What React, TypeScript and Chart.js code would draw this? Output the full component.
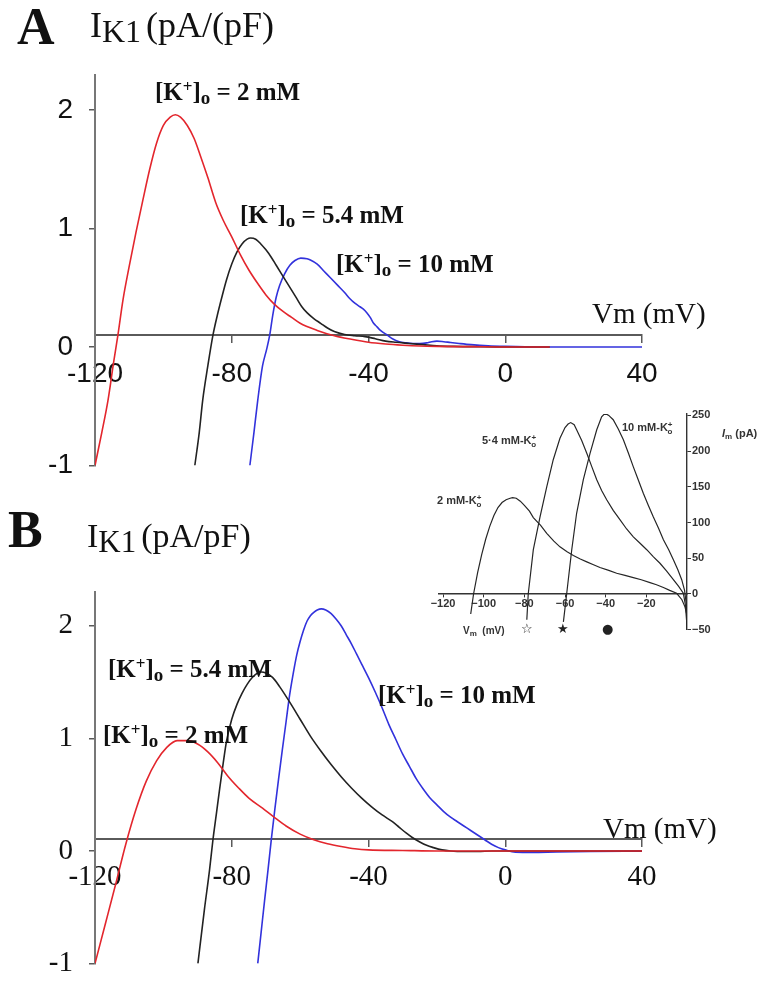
import React, { useEffect, useRef } from "react";
import { Chart, registerables } from "chart.js";

Chart.register(...registerables);

// ---------- Panel A (pA/pF vs mV) ----------
const aRedV = [-120, -118, -116.2, -114.5, -113.3, -111.8, -110, -108, -106, -104, -102, -100, -98, -96.5, -95, -93, -91, -89, -87, -84.7, -82.5, -80, -77.5, -75, -72.5, -70, -67.5, -65, -62.5, -60, -55, -50, -45, -40, -35, -30, -25, -20, -10, 0, 13];
const aRedI = [-1.0, -0.72, -0.45, -0.12, 0.1, 0.4, 0.68, 0.97, 1.24, 1.5, 1.72, 1.87, 1.94, 1.96, 1.94, 1.87, 1.76, 1.6, 1.43, 1.22, 1.07, 0.93, 0.78, 0.65, 0.54, 0.44, 0.36, 0.3, 0.25, 0.2, 0.14, 0.095, 0.065, 0.04, 0.025, 0.015, 0.008, 0.005, 0.003, 0.0, 0.0];

const aBlackV = [-90.8, -89.5, -88.5, -87, -85.5, -84.2, -82.9, -81.5, -80, -78.5, -77, -75.5, -74.5, -73, -71.5, -70, -68.5, -67, -65.5, -64, -62.5, -61, -59.5, -58, -56, -54, -52, -50, -47, -44, -41, -38, -35, -32, -28, -24, -20, -15, -10, 0, 13];
const aBlackI = [-1.0, -0.72, -0.45, -0.16, 0.1, 0.27, 0.42, 0.57, 0.7, 0.8, 0.87, 0.91, 0.92, 0.91, 0.87, 0.82, 0.76, 0.69, 0.62, 0.55, 0.48, 0.41, 0.34, 0.29, 0.24, 0.2, 0.16, 0.13, 0.105, 0.095, 0.088, 0.07, 0.05, 0.04, 0.03, 0.02, 0.01, 0.005, 0.003, 0.0, 0.0];

const aBlueV = [-74.7, -73.5, -72.4, -71, -69.8, -68.9, -68, -67, -66, -64.5, -63, -61.5, -59.8, -58, -57, -55, -53, -51, -49, -47, -45.5, -44, -42.5, -41.5, -40.5, -39.5, -38.5, -37.5, -36.5, -34.5, -33, -31, -29, -27, -25, -23, -21.5, -20, -18, -16, -13.5, -10, -5, 0, 10, 40];
const aBlueI = [-1.0, -0.72, -0.45, -0.16, -0.02, 0.1, 0.27, 0.42, 0.52, 0.62, 0.69, 0.73, 0.75, 0.745, 0.735, 0.7, 0.64, 0.58, 0.52, 0.46, 0.41, 0.37, 0.34, 0.32, 0.29, 0.25, 0.2, 0.17, 0.14, 0.1, 0.07, 0.045, 0.035, 0.03, 0.03, 0.035, 0.045, 0.05, 0.045, 0.038, 0.03, 0.02, 0.01, 0.005, 0.0, 0.0];

// ---------- Panel B ----------
const bRedV = [-120, -117, -114, -111, -108, -105, -102, -99, -96, -93, -90, -87, -84, -81, -78, -75, -71, -68, -64, -60, -56, -52, -48, -44, -40, -30, -20, 0, 40];
const bRedI = [-1.0, -0.65, -0.3, 0.06, 0.37, 0.62, 0.8, 0.92, 0.98, 0.98, 0.95, 0.88, 0.78, 0.66, 0.56, 0.47, 0.38, 0.31, 0.22, 0.15, 0.1, 0.065, 0.04, 0.02, 0.01, 0.005, 0.0, 0.0, 0.0];

const bBlackV = [-89.9, -88, -86.5, -85.5, -84.5, -83.5, -82.5, -81.5, -80, -78.5, -77, -75.5, -74, -72.5, -71.3, -70, -68, -66, -63, -60, -57, -54, -51, -48, -45, -42, -39, -36, -33, -31, -29, -27.2, -25, -23, -21, -18.5, -16, -12, -8, -4, 0, 20, 40];
const bBlackI = [-1.0, -0.52, -0.17, 0.1, 0.33, 0.56, 0.78, 0.98, 1.17, 1.3, 1.4, 1.48, 1.54, 1.58, 1.59, 1.58, 1.54, 1.46, 1.32, 1.17, 1.02, 0.89, 0.77, 0.66, 0.56, 0.47, 0.39, 0.32, 0.26, 0.21, 0.16, 0.12, 0.08, 0.05, 0.03, 0.01, 0.0, -0.005, -0.005, 0.0, 0.0, 0.0, 0.0];

const bBlueV = [-72.4, -71.4, -70.4, -69.4, -68.4, -67.4, -66.3, -65.2, -64.1, -63.1, -62, -61, -60, -59, -58, -57, -56, -55, -53.8, -52.5, -51, -49.5, -48, -46.5, -45, -43.5, -42, -40, -38, -36, -34, -32, -30, -28, -26, -24, -22, -20, -18, -16, -14, -12, -10, -8, -6, -4, -2, 0, 3, 8, 15, 25, 40];
const bBlueI = [-1.0, -0.72, -0.44, -0.17, 0.11, 0.37, 0.64, 0.9, 1.15, 1.38, 1.58, 1.74, 1.86, 1.96, 2.04, 2.09, 2.12, 2.14, 2.15, 2.14, 2.11, 2.06, 2.0, 1.92, 1.84, 1.75, 1.66, 1.54, 1.41, 1.27, 1.12, 0.99, 0.86, 0.75, 0.64, 0.55, 0.47, 0.41, 0.35, 0.3, 0.26, 0.22, 0.18, 0.14, 0.1, 0.06, 0.03, 0.01, -0.01, -0.012, -0.008, -0.004, -0.002];

// ---------- Inset (pA vs mV) ----------
const i2V = [-106.4, -105, -103, -101, -99, -97, -95, -93, -91, -89, -87, -85.8, -84, -82, -80, -77.5, -75.6, -72, -69, -65.5, -62.5, -59, -55.9, -52.5, -49.3, -46, -42.8, -38.5, -34.6, -30.5, -26.4, -22.5, -18.2, -15, -11.6, -8.5, -5.1, -2.5, -1, 0];
const i2I = [-28, 0, 30, 55, 77, 95, 110, 121, 128, 132, 134, 135, 134, 130, 124, 116, 107, 96, 85, 74, 66, 59, 54, 49, 45, 41, 37, 33, 29, 26, 23, 20, 16, 13, 9, 5, 1, -8, -18, -30];
const i54V = [-78.8, -78.1, -75.6, -72.3, -69, -65.8, -62.5, -60, -58.5, -57.2, -55.5, -54.3, -51.8, -49.3, -46.8, -44.4, -42, -39.5, -36.3, -33, -29.7, -26.4, -23.1, -19.8, -16.5, -13.3, -10, -6.7, -4.2, -1.8, -0.8, 0];
const i54I = [-36, 0, 62, 108, 150, 188, 218, 233, 238, 240, 237, 230, 215, 197, 178, 160, 145, 132, 117, 104, 91, 80, 71, 62, 52, 43, 32, 20, 11, 1, -15, -45];
const i10V = [-60.8, -59.2, -56.7, -54.3, -51, -47.7, -44.4, -42, -40.3, -38.5, -36.3, -33.8, -31.3, -28.8, -26.4, -24, -21.5, -19, -16.6, -14, -11.6, -9, -6.7, -4.5, -2.6, -1.2, -0.3, 0];
const i10I = [-39, 0, 62, 113, 160, 197, 230, 248, 253, 250, 244, 231, 216, 197, 178, 160, 141, 124, 108, 92, 76, 62, 48, 34, 20, 5, -15, -50];

// ---------- Ticks ----------
const xTicks = [-120, -80, -40, 0, 40];
const yTicks = [-1, 0, 1, 2];
const insetXTicks = [-120, -100, -80, -60, -40, -20];
const insetYTicks = [-50, 0, 50, 100, 150, 200, 250];

const RED = "#e3262d";
const BLACK = "#222222";
const BLUE = "#3232dc";
const AXIS = "#5a5a5a";

const SERIF = "'Liberation Serif', 'Times New Roman', serif";
const SANS = "'Liberation Sans', Arial, sans-serif";

const pts = (v: number[], i: number[]) => v.map((x, k) => ({ x, y: i[k] }));

function panelConfig(o: {
  series: { v: number[]; i: number[]; color: string }[];
  padding: any;
  yMax: number;
  axisAt: number;
  font: any;
  xPad: number;
}) {
  return {
    type: "line",
    data: {
      datasets: o.series.map((s) => ({
        data: pts(s.v, s.i),
        borderColor: s.color,
        borderWidth: 1.6,
        pointRadius: 0,
        fill: false,
        cubicInterpolationMode: "monotone",
      })),
    },
    options: {
      animation: false,
      responsive: false,
      events: [],
      layout: { padding: o.padding },
      plugins: { legend: { display: false }, tooltip: { enabled: false } },
      scales: {
        x: {
          type: "linear",
          min: -120,
          max: 40,
          position: { y: o.axisAt },
          afterBuildTicks: (s: any) => {
            s.ticks = xTicks.map((v) => ({ value: v }));
          },
          grid: { display: true, drawOnChartArea: false, drawTicks: true, tickLength: 7, color: AXIS, lineWidth: 1.5 },
          border: { display: true, color: AXIS, width: 2 },
          ticks: { font: o.font, color: "#111", padding: o.xPad, maxRotation: 0, autoSkip: false, callback: (v: any) => String(v) },
        },
        y: {
          type: "linear",
          min: -1,
          max: o.yMax,
          position: "left",
          afterFit: (s: any) => {
            s.width = 95;
          },
          afterBuildTicks: (s: any) => {
            s.ticks = yTicks.map((v) => ({ value: v }));
          },
          grid: { display: true, drawOnChartArea: false, drawTicks: true, tickLength: 6, color: AXIS, lineWidth: 1.5 },
          border: { display: true, color: "#777", width: 2 },
          ticks: { font: o.font, color: "#111", padding: 16, autoSkip: false, callback: (v: any) => String(v) },
        },
      },
    },
  };
}

function insetConfig() {
  const series = [
    { v: i2V, i: i2I },
    { v: i54V, i: i54I },
    { v: i10V, i: i10I },
  ];
  const f = { family: "'Liberation Sans', Arial, sans-serif", size: 11, weight: "bold" };
  const fmt = (v: any) => (v < 0 ? "\u2212" + Math.abs(v) : String(v));
  return {
    type: "line",
    data: {
      datasets: series.map((s) => ({
        data: pts(s.v, s.i),
        borderColor: "#262626",
        borderWidth: 1.2,
        pointRadius: 0,
        fill: false,
        tension: 0,
      })),
    },
    options: {
      animation: false,
      responsive: false,
      events: [],
      layout: { padding: { left: 39, right: 0, top: 19, bottom: 15.3 } },
      plugins: { legend: { display: false }, tooltip: { enabled: false } },
      scales: {
        x: {
          type: "linear",
          min: -122,
          max: 0,
          position: { y: 0 },
          afterBuildTicks: (s: any) => {
            s.ticks = insetXTicks.map((v) => ({ value: v }));
          },
          grid: { display: true, drawOnChartArea: false, drawTicks: true, tickLength: 3, color: "#333", lineWidth: 1 },
          border: { display: true, color: "#333", width: 1.4 },
          ticks: { font: f, color: "#333", padding: 0, maxRotation: 0, autoSkip: false, callback: fmt },
        },
        y: {
          type: "linear",
          min: -50,
          max: 252,
          position: "right",
          afterFit: (s: any) => {
            s.width = 80;
          },
          afterBuildTicks: (s: any) => {
            s.ticks = insetYTicks.map((v) => ({ value: v }));
          },
          grid: { display: true, drawOnChartArea: false, drawTicks: true, tickLength: 4, color: "#333", lineWidth: 1 },
          border: { display: true, color: "#333", width: 1.4 },
          ticks: { font: f, color: "#333", padding: 1, autoSkip: false, callback: fmt },
        },
      },
    },
  };
}

function ChartCanvas({ make, left, top, width, height }: any) {
  const ref = useRef<HTMLCanvasElement>(null);
  useEffect(() => {
    const c = new Chart(ref.current as HTMLCanvasElement, make());
    return () => c.destroy();
  }, []);
  return (
    <canvas
      ref={ref}
      width={width}
      height={height}
      style={{ position: "absolute", left, top, width, height }}
    />
  );
}

function Txt({ x, b, fs, fam = SERIF, bold = false, italic = false, color = "#111", children }: any) {
  const k = fam === SANS ? 0.8465 : 0.8375;
  return (
    <div
      style={{
        position: "absolute",
        left: x,
        top: b - k * fs,
        fontSize: fs,
        lineHeight: fs + "px",
        height: fs,
        fontFamily: fam,
        fontWeight: bold ? 700 : 400,
        fontStyle: italic ? "italic" : "normal",
        color,
        whiteSpace: "pre",
      }}
    >
      {children}
    </div>
  );
}

function Sub({ fs, dy, ml = 0, children }: any) {
  return (
    <span style={{ fontSize: fs, lineHeight: 0, position: "relative", top: dy, marginLeft: ml }}>{children}</span>
  );
}

function KLabel({ x, b, val }: any) {
  return (
    <Txt x={x} b={b} fs={25} bold>
      [K<Sub fs={17} dy={-8}>+</Sub>]<Sub fs={19} dy={4}>o</Sub> = {val} mM
    </Txt>
  );
}

function InsetK({ x, b, text }: any) {
  return (
    <Txt x={x} b={b} fs={11} fam={SANS} bold color="#333">
      {text}
      <Sub fs={8} dy={-4}>+</Sub>
      <Sub fs={8} dy={3} ml={-5}>o</Sub>
    </Txt>
  );
}

export default function App() {
  return (
    <div style={{ position: "absolute", left: 0, top: 0, width: 767, height: 997, background: "#fff", overflow: "hidden" }}>
      <ChartCanvas
        left={0}
        top={0}
        width={767}
        height={500}
        make={() =>
          panelConfig({
            series: [
              { v: aRedV, i: aRedI, color: RED },
              { v: aBlackV, i: aBlackI, color: BLACK },
              { v: aBlueV, i: aBlueI, color: BLUE },
            ],
            padding: { left: 0, right: 125, top: 74.5, bottom: 34.5 },
            yMax: 2.3,
            axisAt: 0.1,
            font: { family: "'Liberation Sans', Arial, sans-serif", size: 28 },
            xPad: 15,
          })
        }
      />
      <ChartCanvas
        left={0}
        top={500}
        width={767}
        height={497}
        make={() =>
          panelConfig({
            series: [
              { v: bRedV, i: bRedI, color: RED },
              { v: bBlackV, i: bBlackI, color: BLACK },
              { v: bBlueV, i: bBlueI, color: BLUE },
            ],
            padding: { left: 0, right: 125, top: 92, bottom: 10.5 },
            yMax: 2.3,
            axisAt: 0.11,
            font: { family: "'Liberation Serif', 'Times New Roman', serif", size: 29 },
            xPad: 14,
          })
        }
      />
      <ChartCanvas left={400} top={395} width={367} height={250} make={insetConfig} />

      {/* Panel A texts */}
      <Txt x={17} b={45} fs={52} bold>A</Txt>
      <Txt x={90} b={37} fs={36}>
        I<Sub fs={32} dy={5}>K1</Sub>
        <span style={{ marginLeft: 5 }}>(pA/(pF)</span>
      </Txt>
      <KLabel x={155} b={100} val="2" />
      <KLabel x={240} b={223} val="5.4" />
      <KLabel x={336} b={272} val="10" />
      <Txt x={592} b={323} fs={29}>Vm (mV)</Txt>

      {/* Panel B texts */}
      <Txt x={8} b={548} fs={52} bold>B</Txt>
      <Txt x={87} b={547} fs={34}>
        I<Sub fs={31} dy={5}>K1</Sub>
        <span style={{ marginLeft: 5 }}>(pA/pF)</span>
      </Txt>
      <KLabel x={108} b={677} val="5.4" />
      <KLabel x={103} b={743} val="2" />
      <KLabel x={378} b={703} val="10" />
      <Txt x={603} b={838} fs={29}>Vm (mV)</Txt>

      {/* Inset texts */}
      <InsetK x={622} b={431} text="10 mM-K" />
      <InsetK x={482} b={444} text={"5\u00b74 mM-K"} />
      <InsetK x={437} b={504} text="2 mM-K" />
      <Txt x={722} b={437} fs={11} fam={SANS} bold color="#333">
        <i>I</i>
        <Sub fs={8} dy={2}>m</Sub> (pA)
      </Txt>
      <Txt x={463} b={634} fs={10} fam={SANS} bold color="#333">
        V<Sub fs={8} dy={2}>m</Sub>{"  (mV)"}
      </Txt>
      <Txt x={521} b={633} fs={13} fam="DejaVu Sans" color="#222">{"\u2606"}</Txt>
      <Txt x={557} b={633} fs={13} fam="DejaVu Sans" color="#222">{"\u2605"}</Txt>
      <Txt x={602} b={633} fs={13} fam="DejaVu Sans" color="#222">{"\u25cf"}</Txt>
    </div>
  );
}
